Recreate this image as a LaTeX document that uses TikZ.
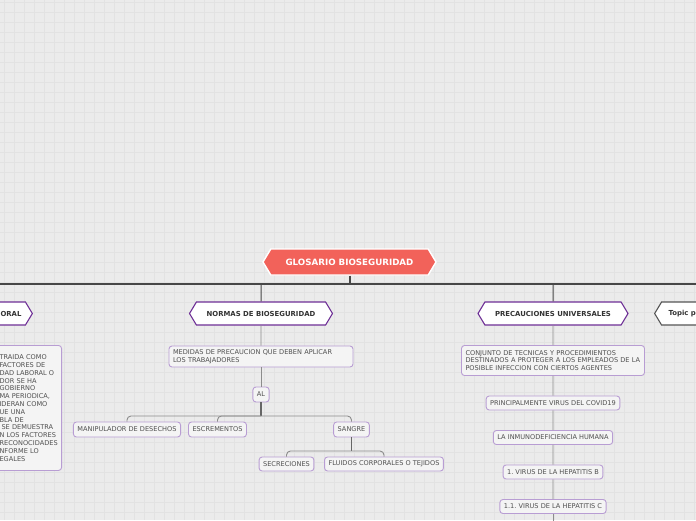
\documentclass[tikz,border=0pt]{standalone}
\usepackage{fontspec}
\setmainfont{DejaVu Sans}
\frenchspacing
\usetikzlibrary{shapes.symbols}

\definecolor{canvas}{HTML}{EBEBEB}
\definecolor{gridline}{HTML}{E2E2E2}
\definecolor{rootred}{HTML}{F2625A}
\definecolor{topicpurple}{HTML}{6E2F96}
\definecolor{topicgray}{HTML}{555555}
\definecolor{leafpurple}{HTML}{B89DD3}
\definecolor{leaffill}{HTML}{F4F4F4}
\definecolor{inktext}{HTML}{505050}
\definecolor{barline}{HTML}{474747}
\definecolor{connline}{HTML}{8C8C8C}

\begin{document}
\begin{tikzpicture}[x=1pt, y=-1pt]
    \tikzstyle{root topic}=[signal, signal to=west and east, signal pointer angle=118, fill=rootred, draw=white, line width=1.4pt, text=white, font=\fontsize{8.7}{10}\selectfont\bfseries, minimum width=173pt, minimum height=26pt, inner sep=0pt];
    \tikzstyle{main topic}=[signal, signal to=west and east, signal pointer angle=118, fill=white, draw=topicpurple, line width=1.1pt, text=black!80, font=\fontsize{6.9}{8}\selectfont\bfseries, minimum height=23pt, inner xsep=0pt, inner ysep=0pt];
    \tikzstyle{leaf}=[rectangle, rounded corners=3pt, draw=leafpurple, line width=0.9pt, fill=leaffill, text=inktext, font=\fontsize{6.6}{7.8}\selectfont, inner xsep=4pt, inner ysep=0pt, minimum height=15pt];
    \tikzstyle{trunk}=[barline, line width=2pt];
    \tikzstyle{conn}=[connline, line width=0.9pt];
    \tikzstyle{fork}=[connline, line width=0.9pt, rounded corners=4pt];

    \useasboundingbox (0,0) rectangle (696,520);
    \clip (0,0) rectangle (696,520);

    % background grid
    \fill[canvas] (0,0) rectangle (696,520);
    \foreach \x in {4,14,...,694}
        \draw[gridline, line width=0.8pt] (\x,0) -- (\x,520);
    \foreach \y in {2,12,...,512}
        \draw[gridline, line width=0.8pt] (0,\y) -- (696,\y);

    \node[root topic] (glosario) at (349.5,262) {GLOSARIO BIOSEGURIDAD};

    \node[main topic, anchor=east, text width=60pt, align=right, inner xsep=4pt] (laboral) at (33,313.5) {ORAL};
    \node[main topic, minimum width=143pt] (normas) at (261,313.5) {NORMAS DE BIOSEGURIDAD};
    \node[main topic, minimum width=150pt] (precauciones) at (553,313.5) {PRECAUCIONES UNIVERSALES};
    \node[main topic, draw=topicgray, anchor=west, text width=60pt, align=left, inner xsep=7pt] (topicp) at (654,313.5) {Topic p};

    % left branch
    \node[leaf, anchor=north east, text width=58pt, align=left, minimum height=125pt] (definicion) at (62,345) {TRAIDA COMO\\FACTORES DE\\DAD LABORAL O\\DOR SE HA\\GOBIERNO\\MA PERIODICA,\\IDERAN COMO\\UE UNA\\BLA DE\\\hspace*{2pt}SE DEMUESTRA\\N LOS FACTORES\\RECONOCIDADES\\NFORME LO\\EGALES};

    % normas de bioseguridad
    \node[leaf, text width=176pt, align=left, minimum height=21pt] (medidas) at (261,356.5) {MEDIDAS DE PRECAUCION QUE DEBEN APLICAR\\LOS TRABAJADORES};
    \node[leaf] (al) at (261,394.5) {AL};
    \node[leaf] (manipulador) at (127,429.5) {MANIPULADOR DE DESECHOS};
    \node[leaf] (escrementos) at (217.5,429.5) {ESCREMENTOS};
    \node[leaf] (sangre) at (351.5,429.5) {SANGRE};
    \node[leaf, minimum height=14pt] (secreciones) at (286.5,464) {SECRECIONES};
    \node[leaf, minimum height=14pt] (fluidos) at (384,464) {FLUIDOS CORPORALES O TEJIDOS};

    % precauciones universales
    \node[leaf, text width=175pt, align=left, minimum height=30pt] (conjunto) at (553,360.5) {CONJUNTO DE TECNICAS Y PROCEDIMIENTOS\\DESTINADOS A PROTEGER A LOS EMPLEADOS DE LA\\POSIBLE INFECCION CON CIERTOS AGENTES};
    \node[leaf, minimum height=14pt] (covid) at (553,403) {PRINCIPALMENTE VIRUS DEL COVID19};
    \node[leaf, minimum height=14pt] (inmuno) at (553,437.5) {LA INMUNODEFICIENCIA HUMANA};
    \node[leaf, minimum height=14pt] (hepb) at (553,472) {1. VIRUS DE LA HEPATITIS B};
    \node[leaf, minimum height=14pt] (hepc) at (553,506.5) {1.1. VIRUS DE LA HEPATITIS C};

    \coordinate (barleft) at (0,284);
    \coordinate (barright) at (696,284);
    \coordinate (barmid) at (349.5,284);
    \coordinate (alfork) at (261,416);
    \coordinate (sangrefork) at (351.5,451);
    \coordinate (tail) at (553,525);

    \draw[trunk] (glosario) -- (barmid);
    \draw[trunk] (barleft) -- (barright);
    \draw[barline, line width=1pt] (normas.north |- barmid) -- (normas);
    \draw[barline, line width=1pt] (precauciones.north |- barmid) -- (precauciones);

    \draw[conn] (normas) -- (medidas);
    \draw[conn] (medidas) -- (al);
    \draw[conn, line width=1.3pt, black!60] (al) -- (alfork);
    \draw[fork] (alfork) -| (manipulador.north);
    \draw[fork] (alfork) -| (escrementos.north);
    \draw[fork] (alfork) -| (sangre.north);
    \draw[conn, line width=1.3pt, black!60] (sangre) -- (sangrefork);
    \draw[fork] (sangrefork) -| (secreciones.north);
    \draw[fork] (sangrefork) -| (fluidos.north);

    \draw[conn] (precauciones) -- (conjunto) -- (covid) -- (inmuno) -- (hepb) -- (hepc);
    \draw[conn] (hepc) -- (tail);
\end{tikzpicture}
\end{document}
